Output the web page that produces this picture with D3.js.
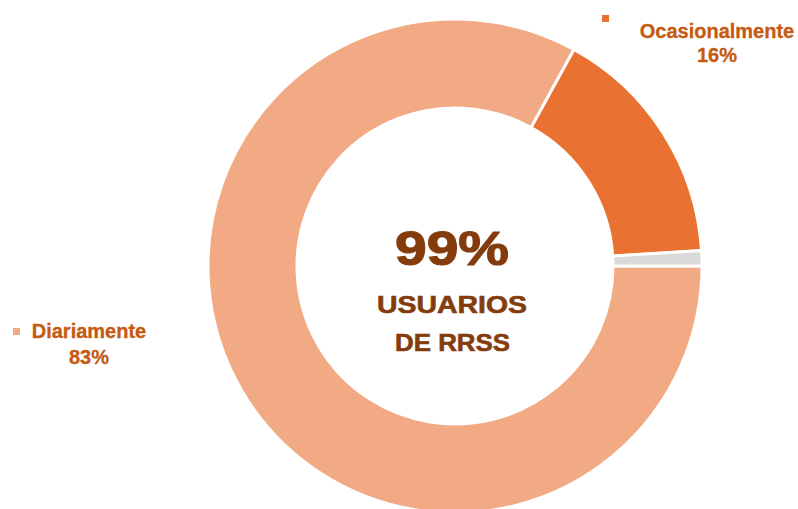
<!DOCTYPE html>
<html>
<head>
<meta charset="utf-8">
<script src="https://cdn.jsdelivr.net/npm/d3@7"></script>
<style>
  html, body { margin: 0; padding: 0; background: #fff; }
  svg { display: block; font-family: "Liberation Sans", Arial, sans-serif; }
</style>
</head>
<body>
<svg id="chart" width="798" height="509"></svg>
<script>
// Frequency of social network use
const categories = ["Diariamente", "Ocasionalmente", "Nunca"];
const shares = [83, 16, 1];
const sliceColors = ["#F2AA84", "#E97132", "#D9D9D9"];
const labelText = ["83%", "16%", null];
const centerValue = "99%";
const centerCaption = ["USUARIOS", "DE RRSS"];

const W = 798, H = 509;
const cx = 455, cy = 266, rOuter = 247, rInner = 158;

const svg = d3.select("#chart");
const g = svg.append("g").attr("transform", `translate(${cx},${cy})`);

const pie = d3.pie()
  .sort(null)
  .value(d => d)
  .startAngle(Math.PI / 2)
  .endAngle(Math.PI / 2 + 2 * Math.PI);

const arc = d3.arc().innerRadius(rInner).outerRadius(rOuter);

g.selectAll("path.slice")
  .data(pie(shares))
  .join("path")
  .attr("class", "slice")
  .attr("d", arc)
  .attr("fill", (d, i) => sliceColors[i])
  .attr("stroke", "#fff")
  .attr("stroke-width", 3)
  .attr("stroke-linejoin", "miter");

// Centre caption
const centre = svg.append("g").attr("fill", "#843C0C").attr("stroke", "#843C0C")
  .attr("font-weight", "bold").attr("text-anchor", "middle");
centre.append("text").attr("x", 452).attr("y", 265).attr("stroke-width", 1.2)
  .attr("font-size", 49).attr("textLength", 114).attr("lengthAdjust", "spacingAndGlyphs")
  .text(centerValue);
centre.append("text").attr("x", 452).attr("y", 313).attr("stroke-width", 0.6)
  .attr("font-size", 24).attr("textLength", 150).attr("lengthAdjust", "spacingAndGlyphs")
  .text(centerCaption[0]);
centre.append("text").attr("x", 452.5).attr("y", 351).attr("stroke-width", 0.6)
  .attr("font-size", 24).attr("textLength", 115).attr("lengthAdjust", "spacingAndGlyphs")
  .text(centerCaption[1]);

// Slice labels with colour keys
const labelSpots = [
  { key: [13, 328], x: 89, y1: 338, y2: 364 },
  { key: [602, 15], x: 717, y1: 38, y2: 62 }
];
labelSpots.forEach((p, i) => {
  const lg = svg.append("g");
  lg.append("rect").attr("x", p.key[0]).attr("y", p.key[1])
    .attr("width", 7).attr("height", 7).attr("fill", sliceColors[i]);
  const t = lg.append("g").attr("fill", "#C55A11").attr("stroke", "#C55A11")
    .attr("stroke-width", 0.3).attr("font-weight", "bold")
    .attr("font-size", 20).attr("text-anchor", "middle");
  t.append("text").attr("x", p.x).attr("y", p.y1).text(categories[i]);
  t.append("text").attr("x", p.x).attr("y", p.y2).text(labelText[i]);
});
</script>
</body>
</html>
